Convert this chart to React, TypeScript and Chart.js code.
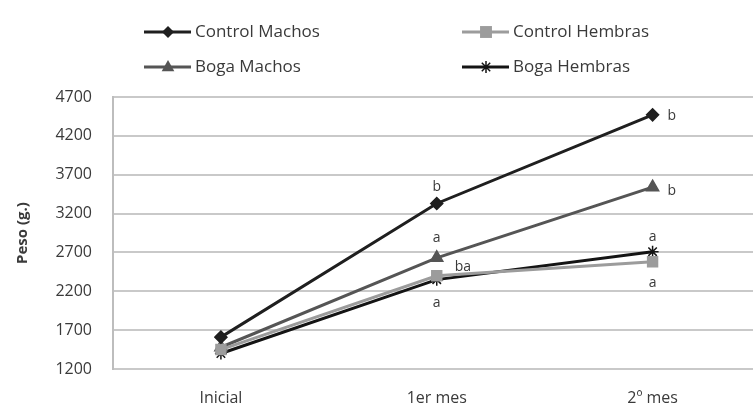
import React, { useEffect, useRef } from "react";
import { Chart, registerables } from "chart.js";

Chart.register(...registerables);

// Weight (g) per group at each sampling time
const categories = ["Inicial", "1er mes", "2º mes"];
const controlMachos = [1610, 3330, 4470];
const controlHembras = [1450, 2400, 2580];
const bogaMachos = [1480, 2630, 3540];
const bogaHembras = [1400, 2350, 2710];

// Significance letters per point
const controlMachosLetters = ["", "b", "b"];
const controlHembrasLetters = ["", "ba", "a"];
const bogaMachosLetters = ["", "a", "b"];
const bogaHembrasLetters = ["", "a", "a"];

const yTicks = [1200, 1700, 2200, 2700, 3200, 3700, 4200, 4700];

const FONT = "'Open Sans', Lato, sans-serif";
const TEXT = "#3a3a3a";

type Offset = { dx: number; dy: number; align: CanvasTextAlign };

// where each letter sits relative to its point
const letterOffsets: Offset[][] = [
  [
    { dx: 0, dy: 0, align: "center" },
    { dx: 0, dy: -16, align: "center" },
    { dx: 15, dy: 1, align: "left" },
  ],
  [
    { dx: 0, dy: 0, align: "center" },
    { dx: 18, dy: -9, align: "left" },
    { dx: 0, dy: 21, align: "center" },
  ],
  [
    { dx: 0, dy: 0, align: "center" },
    { dx: 0, dy: -20, align: "center" },
    { dx: 15, dy: 4, align: "left" },
  ],
  [
    { dx: 0, dy: 0, align: "center" },
    { dx: 0, dy: 23, align: "center" },
    { dx: 0, dy: -15, align: "center" },
  ],
];

const letterSets = [
  controlMachosLetters,
  controlHembrasLetters,
  bogaMachosLetters,
  bogaHembrasLetters,
];

const letterPlugin = {
  id: "letters",
  afterDatasetsDraw(chart: any) {
    const ctx = chart.ctx as CanvasRenderingContext2D;
    ctx.save();
    ctx.font = `14px ${FONT}`;
    ctx.fillStyle = TEXT;
    ctx.textBaseline = "middle";
    letterSets.forEach((letters, i) => {
      const meta = chart.getDatasetMeta(i);
      letters.forEach((txt, j) => {
        if (!txt) return;
        const pt = meta.data[j];
        const off = letterOffsets[i][j];
        ctx.textAlign = off.align;
        ctx.fillText(txt, pt.x + off.dx, pt.y + off.dy);
      });
    });
    ctx.restore();
  },
};

function drawMarker(
  ctx: CanvasRenderingContext2D,
  style: string,
  r: number,
  x: number,
  y: number
) {
  ctx.beginPath();
  if (style === "rectRot") {
    ctx.moveTo(x, y - r);
    ctx.lineTo(x + r, y);
    ctx.lineTo(x, y + r);
    ctx.lineTo(x - r, y);
    ctx.closePath();
    ctx.fill();
  } else if (style === "rect") {
    const s = r * 0.85;
    ctx.rect(x - s, y - s, 2 * s, 2 * s);
    ctx.fill();
  } else if (style === "triangle") {
    ctx.moveTo(x, y - r);
    ctx.lineTo(x + r * 0.9, y + r * 0.6);
    ctx.lineTo(x - r * 0.9, y + r * 0.6);
    ctx.closePath();
    ctx.fill();
  } else {
    ctx.moveTo(x, y - r);
    ctx.lineTo(x, y + r);
    ctx.moveTo(x - r * 0.7, y - r * 0.7);
    ctx.lineTo(x + r * 0.7, y + r * 0.7);
    ctx.moveTo(x - r * 0.7, y + r * 0.7);
    ctx.lineTo(x + r * 0.7, y - r * 0.7);
    ctx.stroke();
  }
}

// two-column legend above the plot
const legendPlugin = {
  id: "twoColLegend",
  afterDraw(chart: any) {
    const ctx = chart.ctx as CanvasRenderingContext2D;
    const cols = [144, 462];
    const rows = [32, 67];
    ctx.save();
    chart.data.datasets.forEach((ds: any, i: number) => {
      const x = cols[i % 2];
      const y = rows[Math.floor(i / 2)];
      ctx.strokeStyle = ds.borderColor;
      ctx.lineWidth = 3;
      ctx.beginPath();
      ctx.moveTo(x, y);
      ctx.lineTo(x + 47, y);
      ctx.stroke();
      ctx.fillStyle = ds.pointBackgroundColor;
      ctx.strokeStyle = ds.pointBorderColor;
      ctx.lineWidth = 1.5;
      drawMarker(ctx, ds.pointStyle, ds.pointRadius, x + 24, y);
      ctx.fillStyle = TEXT;
      ctx.font = `17px ${FONT}`;
      ctx.textAlign = "left";
      ctx.textBaseline = "middle";
      ctx.fillText(ds.label, x + 51, y);
    });
    ctx.restore();
  },
};

export default function App() {
  const ref = useRef<HTMLCanvasElement>(null);

  useEffect(() => {
    if (!ref.current) return;
    const series = [
      { label: "Control Machos", data: controlMachos, color: "#1f1f1f", style: "rectRot", r: 6 },
      { label: "Control Hembras", data: controlHembras, color: "#9c9c9c", style: "rect", r: 7 },
      { label: "Boga Machos", data: bogaMachos, color: "#555555", style: "triangle", r: 7 },
      { label: "Boga Hembras", data: bogaHembras, color: "#141414", style: "star", r: 6 },
    ];
    const chart = new Chart(ref.current, {
      type: "line",
      data: {
        labels: categories,
        datasets: series.map((s) => ({
          label: s.label,
          data: s.data,
          borderColor: s.color,
          backgroundColor: s.color,
          pointBackgroundColor: s.color,
          pointBorderColor: s.color,
          pointStyle: s.style as any,
          pointRadius: s.r,
          pointBorderWidth: 1.5,
          borderWidth: 3,
          tension: 0,
        })),
      },
      options: {
        animation: false,
        responsive: false,
        layout: { padding: { top: 97, left: 0, right: 0, bottom: 0 } },
        plugins: {
          legend: { display: false },
          tooltip: { enabled: false },
        },
        scales: {
          x: {
            offset: true,
            grid: { display: false, drawTicks: false },
            border: { display: false },
            ticks: {
              color: TEXT,
              font: { family: FONT, size: 16 },
              padding: 20,
            },
            afterFit(scale: any) {
              scale.height = 44;
            },
          },
          y: {
            min: 1200,
            max: 4700,
            afterBuildTicks(scale: any) {
              scale.ticks = yTicks.map((v) => ({ value: v }));
            },
            grid: { color: "#c9c9c9", lineWidth: 2, drawTicks: false },
            border: { display: true, color: "#bdbdbd", width: 2 },
            ticks: {
              color: TEXT,
              font: { family: FONT, size: 16 },
              padding: 21,
              callback: (v: any) => String(v),
            },
            title: {
              display: true,
              text: "Peso (g.)",
              color: TEXT,
              font: { family: FONT, size: 15, weight: "bold" },
              padding: { top: 14, bottom: 0 },
            },
            afterFit(scale: any) {
              scale.width = 113;
            },
          },
        },
      },
      plugins: [letterPlugin, legendPlugin],
    });
    return () => chart.destroy();
  }, []);

  return (
    <div
      style={{
        position: "fixed",
        left: 0,
        top: 0,
        width: 753,
        height: 413,
        overflow: "hidden",
        background: "#ffffff",
      }}
    >
      <canvas ref={ref} width={769} height={413} style={{ display: "block" }} />
    </div>
  );
}
